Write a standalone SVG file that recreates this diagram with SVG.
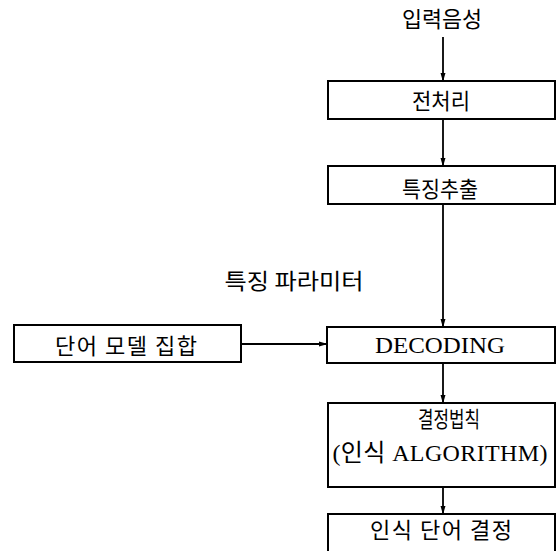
<svg xmlns="http://www.w3.org/2000/svg" width="558" height="551" viewBox="0 0 558 551">
<defs>
<marker id="ah" markerWidth="9" markerHeight="14" refX="13" refY="4" orient="auto" markerUnits="userSpaceOnUse" viewBox="0 0 14 8">
<path d="M0,0 L14,4 L0,8 Z" fill="#000"/>
</marker>
</defs>
<style>
.box{fill:#fff;stroke:#000;stroke-width:2}
.kt{font-family:"Noto Sans CJK KR","Noto Sans",sans-serif;font-size:22px;fill:#000;text-anchor:middle}
.et{font-family:"Liberation Serif","Noto Sans CJK KR",serif;font-size:24px;fill:#000;text-anchor:middle}
.cn{stroke:#000;stroke-width:1.8;fill:none;marker-end:url(#ah)}
</style>
<rect width="558" height="551" fill="#fff"/>
<g id="connectors">
<line class="cn" x1="443" y1="37" x2="443" y2="81"/>
<line class="cn" x1="443" y1="119" x2="443" y2="166"/>
<line class="cn" x1="443" y1="204" x2="443" y2="327"/>
<line class="cn" x1="241" y1="344" x2="327" y2="344"/>
<line class="cn" x1="443" y1="363" x2="443" y2="403"/>
<line class="cn" x1="443" y1="487" x2="443" y2="514"/>
</g>
<g id="input">
<text class="kt" x="442" y="27" textLength="80" lengthAdjust="spacingAndGlyphs">입력음성</text>
</g>
<g id="preprocess">
<rect class="box" x="328" y="81" width="227" height="38"/>
<text class="kt" x="441" y="109" textLength="58" lengthAdjust="spacingAndGlyphs">전처리</text>
</g>
<g id="feature">
<rect class="box" x="328" y="166" width="227" height="38"/>
<text class="kt" x="440" y="197" textLength="76" lengthAdjust="spacingAndGlyphs">특징추출</text>
</g>
<g id="param-label">
<text class="kt" x="294" y="289" textLength="139" lengthAdjust="spacingAndGlyphs">특징 파라미터</text>
</g>
<g id="wordmodel">
<rect class="box" x="14" y="325" width="227" height="37"/>
<text class="kt" x="126" y="354" textLength="142" lengthAdjust="spacing">단어 모델 집합</text>
</g>
<g id="decoding">
<rect class="box" x="327" y="327" width="228" height="36"/>
<text class="et" x="440" y="353" textLength="130" lengthAdjust="spacingAndGlyphs">DECODING</text>
</g>
<g id="decision">
<rect class="box" x="328" y="403" width="227" height="84"/>
<text class="kt" x="449" y="427" textLength="62" lengthAdjust="spacingAndGlyphs">결정법칙</text>
<text class="et" x="440" y="461" textLength="215" lengthAdjust="spacing">(인식 ALGORITHM)</text>
</g>
<g id="result">
<rect class="box" x="328" y="514" width="227" height="45"/>
<text class="kt" x="441" y="538" textLength="142" lengthAdjust="spacing">인식 단어 결정</text>
</g>
</svg>
